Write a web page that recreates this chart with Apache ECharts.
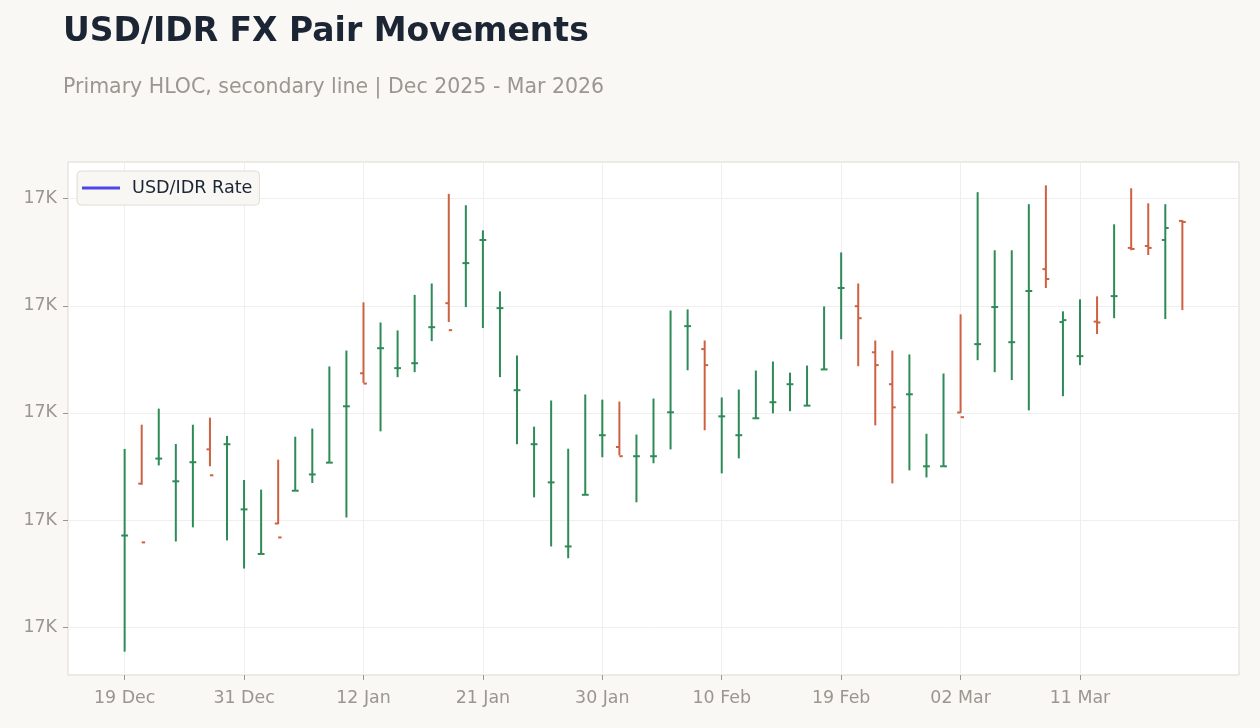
<!DOCTYPE html>
<html>
<head>
<meta charset="utf-8">
<script src="https://cdn.jsdelivr.net/npm/echarts@6/dist/echarts.min.js"></script>
<style>
html,body{margin:0;padding:0;background:#f9f8f5;}
#chart{width:1260px;height:728px;}
</style>
</head>
<body>
<div id="chart"></div>
<script>
// Trading dates (business days, Dec 25 and Jan 1 excluded)
const dates = [
  '2025-12-19','2025-12-22','2025-12-23','2025-12-24','2025-12-26','2025-12-29','2025-12-30',
  '2025-12-31','2026-01-02','2026-01-05','2026-01-06','2026-01-07','2026-01-08','2026-01-09',
  '2026-01-12','2026-01-13','2026-01-14','2026-01-15','2026-01-16','2026-01-19','2026-01-20',
  '2026-01-21','2026-01-22','2026-01-23','2026-01-26','2026-01-27','2026-01-28','2026-01-29',
  '2026-01-30','2026-02-02','2026-02-03','2026-02-04','2026-02-05','2026-02-06','2026-02-09',
  '2026-02-10','2026-02-11','2026-02-12','2026-02-13','2026-02-16','2026-02-17','2026-02-18',
  '2026-02-19','2026-02-20','2026-02-23','2026-02-24','2026-02-25','2026-02-26','2026-02-27',
  '2026-03-02','2026-03-03','2026-03-04','2026-03-05','2026-03-06','2026-03-09','2026-03-10',
  '2026-03-11','2026-03-12','2026-03-13','2026-03-16','2026-03-17','2026-03-18','2026-03-19'
];
const openV = [
  16842.8,16867.0,16878.7,16868.1,16877.0,16883.0,16885.4,16855.0,16834.2,16848.4,
  16863.7,16871.3,16876.8,16903.1,16918.5,16930.2,16920.9,16923.2,16940.0,16951.2,
  16969.9,16980.7,16948.9,16910.6,16885.4,16867.6,16837.7,16861.8,16889.6,16884.1,
  16879.8,16879.8,16900.3,16940.5,16929.8,16898.4,16889.6,16897.5,16905.0,16913.4,
  16903.4,16920.3,16958.3,16949.8,16928.3,16913.4,16908.7,16875.1,16875.1,16900.2,
  16932.1,16949.4,16933.0,16956.9,16967.1,16942.4,16926.5,16942.6,16954.5,16977.0,
  16977.9,16980.7,16989.6
];
const highV = [
  16883.2,16894.5,16902.0,16885.5,16894.5,16897.8,16889.3,16868.7,16864.2,16878.2,
  16888.9,16892.7,16921.7,16929.1,16951.6,16942.2,16938.5,16955.1,16960.4,17002.2,
  16996.9,16985.2,16956.7,16926.8,16893.6,16905.8,16883.3,16908.6,16906.2,16905.3,
  16889.9,16906.7,16947.8,16948.3,16933.8,16907.2,16910.9,16919.8,16924.0,16918.8,
  16922.1,16949.7,16974.9,16960.4,16933.8,16929.1,16927.3,16890.3,16918.4,16946.0,
  17003.0,16975.9,16975.9,16997.4,17006.2,16947.4,16953.0,16954.4,16988.0,17004.8,
  16997.8,16997.4,16989.9
];
const lowV = [
  16788.6,16866.5,16875.5,16840.0,16846.6,16875.1,16840.5,16827.4,16834.2,16848.1,
  16863.7,16867.3,16876.8,16851.2,16914.0,16891.4,16916.7,16919.0,16933.5,16942.4,
  16949.4,16939.6,16916.7,16885.4,16860.6,16837.7,16832.2,16861.8,16879.3,16880.2,
  16858.3,16876.5,16883.0,16919.9,16891.9,16871.8,16878.8,16897.5,16899.8,16900.8,
  16903.4,16920.3,16934.4,16921.8,16894.2,16867.1,16873.2,16869.9,16875.1,16900.0,
  16924.6,16919.0,16915.3,16901.2,16958.3,16907.8,16922.3,16936.8,16944.2,16975.9,
  16973.7,16943.8,16948.0
];
const closeV = [
  16842.8,16839.6,16878.7,16868.1,16877.0,16870.9,16885.4,16855.0,16834.2,16841.9,
  16863.7,16871.3,16876.8,16903.1,16913.7,16930.2,16920.9,16923.2,16940.0,16938.6,
  16969.9,16980.7,16948.9,16910.6,16885.4,16867.6,16837.7,16861.8,16889.6,16879.8,
  16879.8,16879.8,16900.3,16940.5,16922.3,16898.4,16889.6,16897.5,16905.0,16913.4,
  16903.4,16920.3,16958.3,16944.2,16922.3,16902.6,16908.7,16875.1,16875.1,16898.0,
  16932.1,16949.4,16933.0,16956.9,16962.5,16943.3,16926.5,16942.2,16954.5,16976.5,
  16977.0,16986.3,16989.1
];
const rateLine = []; // secondary line: not visible in the reference
const yTicks = [16800, 16850, 16900, 16950, 17000];
const xTickIdx = [0, 7, 14, 21, 28, 35, 42, 49, 56];
const MONTHS = ['Jan','Feb','Mar','Apr','May','Jun','Jul','Aug','Sep','Oct','Nov','Dec'];

const GREEN = '#2e8b57', RED = '#cd6142';
const TICK_W = 0.2;
const n = dates.length;
const data = dates.map((d, i) => [i, openV[i], highV[i], lowV[i], closeV[i]]);

const allV = openV.concat(highV, lowV, closeV);
const yMinD = Math.min(...allV), yMaxD = Math.max(...allV);
const yPad = (yMaxD - yMinD) * 0.05;
const xMinD = -TICK_W, xMaxD = n - 1 + TICK_W;
const xPad = (xMaxD - xMinD) * 0.05;

function fmtDate(s) {
  const p = s.split('-');
  return p[2] + ' ' + MONTHS[parseInt(p[1], 10) - 1];
}

const labelStyle = { color: '#9b968f', fontSize: 17.4, fontFamily: 'DejaVu Sans' };

const chart = echarts.init(document.getElementById('chart'), null, { renderer: 'canvas' });
chart.setOption({
  backgroundColor: '#f9f8f5',
  animation: false,
  title: {
    text: 'USD/IDR FX Pair Movements',
    subtext: 'Primary HLOC, secondary line | Dec 2025 - Mar 2026',
    left: 58, top: 11,
    itemGap: 28,
    textStyle: { fontFamily: 'DejaVu Sans', fontSize: 33, fontWeight: 'bold', color: '#1b2534' },
    subtextStyle: { fontFamily: 'DejaVu Sans', fontSize: 20.5, color: '#9b968f' }
  },
  legend: {
    left: 77, top: 171,
    data: [{ name: 'USD/IDR Rate', icon: 'rect' }],
    itemWidth: 38, itemHeight: 3,
    backgroundColor: '#f9f7f4', borderColor: '#e0dcd5', borderWidth: 1, borderRadius: 4,
    padding: [8, 7, 8, 5],
    textStyle: { fontFamily: 'DejaVu Sans', fontSize: 17.6, color: '#1b2534', padding: [0, 0, 0, 7] }
  },
  grid: {
    left: 68, right: 21, top: 162, bottom: 53,
    show: true, backgroundColor: '#ffffff', borderColor: '#ded9d1', borderWidth: 1
  },
  xAxis: {
    type: 'value',
    min: xMinD - xPad, max: xMaxD + xPad,
    axisLine: { show: false, onZero: false },
    axisTick: { show: true, customValues: xTickIdx, length: 5, lineStyle: { color: '#9b968f' } },
    axisLabel: Object.assign({ customValues: xTickIdx, margin: 15,
      formatter: v => fmtDate(dates[Math.round(v)]) }, labelStyle),
    splitLine: { show: true, lineStyle: { color: '#efefef', width: 1 } }
  },
  yAxis: {
    type: 'value',
    min: yMinD - yPad, max: yMaxD + yPad,
    axisLine: { show: false, onZero: false },
    axisTick: { show: true, customValues: yTicks, length: 5, lineStyle: { color: '#9b968f' } },
    axisLabel: Object.assign({ customValues: yTicks, margin: 11,
      formatter: v => Math.round(v / 1000) + 'K' }, labelStyle),
    splitLine: { show: true, lineStyle: { color: '#efefef', width: 1 } }
  },
  series: [
    {
      name: 'USD/IDR HLOC',
      type: 'custom',
      data: data,
      encode: { x: 0, y: [1, 2, 3, 4] },
      renderItem: function (params, api) {
        const x = api.value(0);
        const o = api.value(1), h = api.value(2), l = api.value(3), c = api.value(4);
        const pH = api.coord([x, h]), pL = api.coord([x, l]);
        const pO = api.coord([x, o]), pC = api.coord([x, c]);
        const w = api.size([TICK_W, 0])[0];
        const color = c >= o ? GREEN : RED;
        const st = { stroke: color, lineWidth: 2 };
        return {
          type: 'group',
          children: [
            { type: 'line', shape: { x1: pH[0], y1: pH[1], x2: pL[0], y2: pL[1] }, style: st },
            { type: 'line', shape: { x1: pO[0] - w, y1: pO[1], x2: pO[0], y2: pO[1] }, style: st },
            { type: 'line', shape: { x1: pC[0], y1: pC[1], x2: pC[0] + w, y2: pC[1] }, style: st }
          ]
        };
      }
    },
    {
      name: 'USD/IDR Rate',
      type: 'line',
      data: rateLine,
      showSymbol: false,
      itemStyle: { color: '#4f46e5' },
      lineStyle: { color: '#4f46e5', width: 2.5 }
    }
  ]
});
</script>
</body>
</html>
